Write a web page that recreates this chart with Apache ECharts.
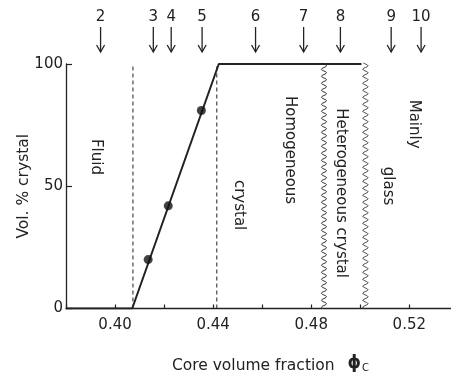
<!DOCTYPE html>
<html><head><meta charset="utf-8">
<script src="https://cdn.jsdelivr.net/npm/echarts@6/dist/echarts.min.js"></script>
<style>html,body{margin:0;padding:0;background:#fff}#c{width:451px;height:381px}</style>
</head><body><div id="c"></div>
<script>
// Crystallinity vs. core volume fraction
const xTickLabels = [0.40, 0.44, 0.48, 0.52];
const yTickLabels = [0, 50, 100];
const curveX = [0.38, 0.407, 0.4423, 0.5005];
const curveY = [0, 0, 100, 100];
const measuredX = [0.4135, 0.4217, 0.4352];
const measuredY = [20, 42, 81];
const dashedBoundaries = [0.4073, 0.4415];
const wavyBoundaries = [0.4852, 0.5021];
const sampleNumbers = ['2', '3', '4', '5', '6', '7', '8', '9', '10'];
const sampleX = [0.3941, 0.4156, 0.4229, 0.4355, 0.4573, 0.4769, 0.4919, 0.5126, 0.5248];
const regionText = ['Fluid', 'crystal', 'Homogeneous', 'Heterogeneous crystal', 'glass', 'Mainly'];
const regionX = [0.3923, 0.4507, 0.4711, 0.4923, 0.5112, 0.5220];
const regionY = [62, 42.3, 64.8, 47.2, 50.1, 75.4];

const ink = '#222';
const FONT = '"DejaVu Sans", sans-serif';

const chart = echarts.init(document.getElementById('c'), null, { renderer: 'canvas' });

const seriesList = [];

// solid crystallinity curve
seriesList.push({
  type: 'line', data: curveX.map((x, i) => [x, curveY[i]]),
  symbol: 'none', lineStyle: { color: ink, width: 2 }, z: 5
});

// measured samples
seriesList.push({
  type: 'scatter', data: measuredX.map((x, i) => [x, measuredY[i]]),
  symbol: 'circle', symbolSize: 9, itemStyle: { color: '#111' }, z: 6
});

// dashed phase boundaries
dashedBoundaries.forEach(b => {
  seriesList.push({
    type: 'line', data: [[b, 0], [b, 100]], symbol: 'none',
    lineStyle: { color: ink, width: 1, type: [4, 3] }, z: 3
  });
});

// wavy boundaries between crystal / heterogeneous / glass
seriesList.push({
  type: 'custom', clip: false, z: 4,
  data: wavyBoundaries.map(b => [b, 0]),
  encode: { x: 0, y: 1 },
  renderItem(params, api) {
    const xv = api.value(0);
    const top = api.coord([xv, 100]);
    const bot = api.coord([xv, 0]);
    const pts = [];
    for (let y = top[1] - 1; y <= bot[1]; y += 0.5) {
      pts.push([top[0] + 2.6 * Math.sin((y - top[1]) / 7 * 2 * Math.PI), y]);
    }
    return { type: 'polyline', shape: { points: pts }, style: { stroke: '#333', lineWidth: 1, fill: null } };
  }
});

// sample markers above the plot
seriesList.push({
  type: 'custom', clip: false, z: 4,
  data: sampleX.map(x => [x, 100]),
  encode: { x: 0, y: 1 },
  renderItem(params, api) {
    const p = api.coord([api.value(0), 100]);
    const x = p[0], top = p[1];
    return {
      type: 'group', children: [
        { type: 'text', x: x, y: top - 47,
          style: { text: sampleNumbers[params.dataIndex], align: 'center', verticalAlign: 'middle',
                   fontSize: 15, fontFamily: FONT, fill: ink } },
        { type: 'line', shape: { x1: x, y1: top - 37, x2: x, y2: top - 12 },
          style: { stroke: ink, lineWidth: 1.3 } },
        { type: 'polyline', shape: { points: [[x - 4, top - 19], [x, top - 12], [x + 4, top - 19]] },
          style: { stroke: ink, lineWidth: 1.3, fill: null } }
      ]
    };
  }
});

// region names, written top-to-bottom
seriesList.push({
  type: 'custom', clip: false, z: 4,
  data: regionX.map((x, i) => [x, regionY[i]]),
  encode: { x: 0, y: 1 },
  renderItem(params, api) {
    const p = api.coord([api.value(0), api.value(1)]);
    return {
      type: 'text', x: p[0], y: p[1], rotation: -Math.PI / 2,
      style: { text: regionText[params.dataIndex], align: 'center', verticalAlign: 'middle',
               fontSize: 15, fontFamily: FONT, fill: ink }
    };
  }
});

chart.setOption({
  animation: false,
  backgroundColor: '#fff',
  grid: { left: 66, right: 0, top: 64, bottom: 72.5, containLabel: false },
  xAxis: {
    type: 'value', min: 0.38, max: 0.537, interval: 0.02,
    splitLine: { show: false },
    axisLine: { lineStyle: { color: ink, width: 1.3 } },
    axisTick: { inside: true, length: 4, lineStyle: { color: ink, width: 1.2 } },
    axisLabel: {
      margin: 9, color: ink, fontSize: 15, fontFamily: FONT,
      showMinLabel: true, showMaxLabel: false,
      formatter: v => xTickLabels.some(t => Math.abs(t - v) < 1e-6) ? v.toFixed(2) : ''
    },
    name: '{t|Core volume fraction}{p|ϕ}{s|C}',
    nameLocation: 'middle', nameGap: 47, nameMoveOverlap: false,
    nameTextStyle: {
      padding: [0, 0, 0, 24],
      rich: {
        t: { fontSize: 15.5, fontFamily: FONT, color: ink, padding: [0, 13, 0, 0] },
        p: { fontSize: 17, fontFamily: FONT, color: ink, fontWeight: 'bold', padding: [0, 0, 3, 0] },
        s: { fontSize: 10, fontFamily: FONT, color: ink, padding: [6, 0, 0, 1] }
      }
    }
  },
  yAxis: {
    type: 'value', min: 0, max: 100, interval: 50,
    splitLine: { show: false },
    axisLine: { lineStyle: { color: ink, width: 1.3 } },
    axisTick: { inside: true, length: 6, lineStyle: { color: ink, width: 1.2 } },
    axisLabel: {
      margin: 3, color: ink, fontSize: 15, fontFamily: FONT,
      formatter: v => yTickLabels.includes(v) ? String(v) : ''
    },
    name: 'Vol. % crystal', nameLocation: 'middle', nameGap: 34, nameRotate: 90,
    nameMoveOverlap: false,
    nameTextStyle: { fontSize: 15.5, fontFamily: FONT, color: ink }
  },
  series: seriesList
});
</script>
</body></html>
